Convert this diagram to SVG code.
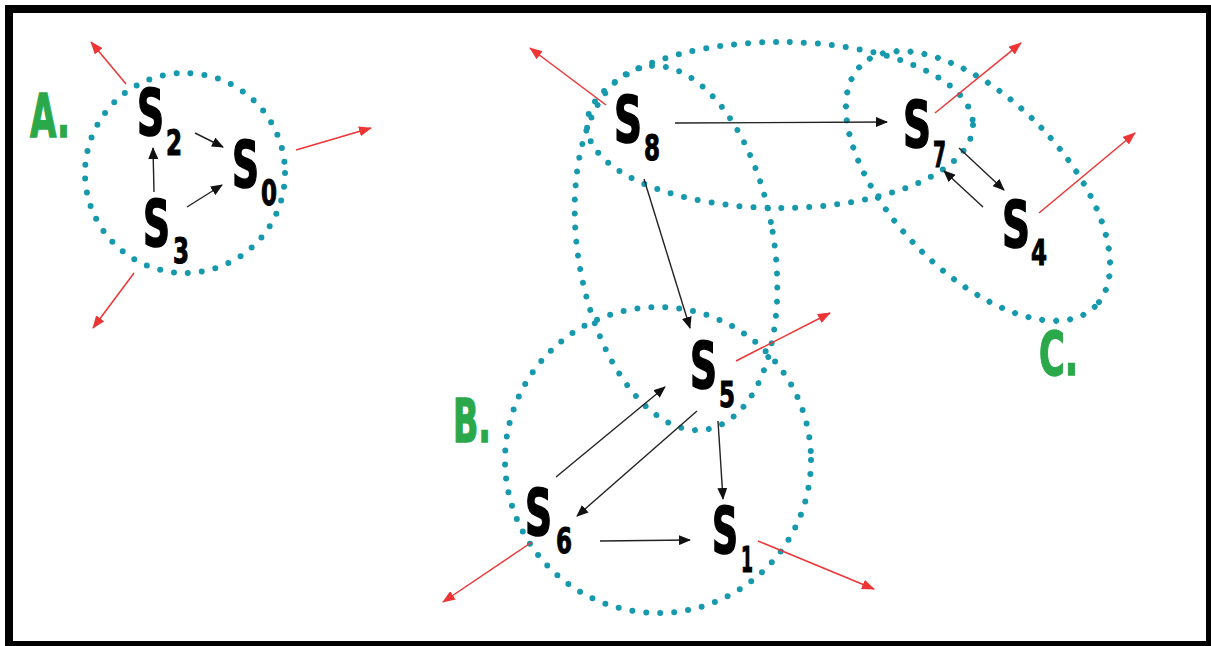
<svg xmlns="http://www.w3.org/2000/svg" width="1211" height="646" viewBox="0 0 1211 646">
<defs>
<style>
.frame{fill:#fff;stroke:#000;stroke-width:8}
.dot{fill:none;stroke:#1799ad;stroke-width:6;stroke-dasharray:0 14;stroke-linecap:round}
.s{font-family:"DejaVu Sans Condensed","DejaVu Sans",sans-serif;font-weight:bold;font-size:64px;fill:#000;stroke:#000;stroke-width:1.6}
.sub{font-family:"DejaVu Sans Condensed","DejaVu Sans",sans-serif;font-weight:bold;font-size:36px;fill:#000;stroke:#000;stroke-width:1}
.lbl{font-family:"DejaVu Sans Condensed","DejaVu Sans",sans-serif;font-weight:bold;font-size:60px;fill:#2ba84a;stroke:#2ba84a;stroke-width:1.4}
.blk{stroke:#222;stroke-width:1.4;fill:none;marker-end:url(#ab)}
.red{stroke:#ee3535;stroke-width:1.5;fill:none;marker-end:url(#ar)}
</style>
<marker id="ab" viewBox="0 0 12 10" refX="11" refY="5" markerWidth="12" markerHeight="10" markerUnits="userSpaceOnUse" orient="auto">
<path d="M0,0 L12,5 L0,10 Z" fill="#111"/>
</marker>
<marker id="ar" viewBox="0 0 13 10" refX="12" refY="5" markerWidth="13" markerHeight="10" markerUnits="userSpaceOnUse" orient="auto">
<path d="M0,0 L13,5 L0,10 Z" fill="#ee3535"/>
</marker>
</defs>
<rect class="frame" x="9" y="9" width="1201" height="636"/>

<g id="clusters">
<circle id="clusterA" class="dot" cx="185" cy="173" r="100"/>
<ellipse id="cluster87" class="dot" cx="780" cy="125" rx="193" ry="83"/>
<ellipse id="cluster85" class="dot" cx="676" cy="248" rx="98" ry="184" transform="rotate(-9.5 676 248)"/>
<circle id="clusterB" class="dot" cx="658" cy="460" r="153"/>
<ellipse id="clusterC" class="dot" cx="978" cy="186" rx="168" ry="86" transform="rotate(46 978 186)"/>
</g>

<g id="labels">
<text class="lbl" x="30" y="137" textLength="40" lengthAdjust="spacingAndGlyphs">A.</text>
<text class="lbl" x="453" y="442" textLength="38" lengthAdjust="spacingAndGlyphs">B.</text>
<text class="lbl" x="1039" y="375" textLength="39" lengthAdjust="spacingAndGlyphs">C.</text>
</g>

<g id="connectors">
<line class="blk" x1="195" y1="133" x2="223" y2="147"/>
<line class="blk" x1="154" y1="192" x2="153" y2="148"/>
<line class="blk" x1="187" y1="207" x2="222" y2="185"/>
<line class="blk" x1="675" y1="123" x2="887" y2="122"/>
<line class="blk" x1="644" y1="179" x2="690" y2="328"/>
<line class="blk" x1="959" y1="148" x2="1004" y2="190"/>
<line class="blk" x1="983" y1="207" x2="944" y2="171"/>
<line class="blk" x1="556" y1="477" x2="665" y2="387"/>
<line class="blk" x1="697" y1="411" x2="577" y2="516"/>
<line class="blk" x1="718" y1="421" x2="723" y2="499"/>
<line class="blk" x1="600" y1="541" x2="690" y2="540"/>
<line class="red" x1="126" y1="84" x2="91" y2="42"/>
<line class="red" x1="296" y1="150" x2="371" y2="128"/>
<line class="red" x1="134" y1="273" x2="93" y2="328"/>
<line class="red" x1="606" y1="105" x2="530" y2="48"/>
<line class="red" x1="935" y1="113" x2="1021" y2="43"/>
<line class="red" x1="1039" y1="213" x2="1135" y2="133"/>
<line class="red" x1="736" y1="361" x2="830" y2="313"/>
<line class="red" x1="532" y1="542" x2="443" y2="602"/>
<line class="red" x1="758" y1="541" x2="874" y2="589"/>
</g>

<g id="S2"><text class="s" x="137" y="135" textLength="27" lengthAdjust="spacingAndGlyphs">S</text><text class="sub" x="166" y="155" textLength="16" lengthAdjust="spacingAndGlyphs">2</text></g>
<g id="S0"><text class="s" x="232" y="187" textLength="27" lengthAdjust="spacingAndGlyphs">S</text><text class="sub" x="261" y="205" textLength="16" lengthAdjust="spacingAndGlyphs">0</text></g>
<g id="S3"><text class="s" x="143" y="246" textLength="27" lengthAdjust="spacingAndGlyphs">S</text><text class="sub" x="173" y="263" textLength="16" lengthAdjust="spacingAndGlyphs">3</text></g>
<g id="S8"><text class="s" x="614" y="142" textLength="28" lengthAdjust="spacingAndGlyphs">S</text><text class="sub" x="644" y="160" textLength="16" lengthAdjust="spacingAndGlyphs">8</text></g>
<g id="S7"><text class="s" x="903" y="147" textLength="28" lengthAdjust="spacingAndGlyphs">S</text><text class="sub" x="933" y="167" textLength="13" lengthAdjust="spacingAndGlyphs">7</text></g>
<g id="S4"><text class="s" x="1002" y="247" textLength="28" lengthAdjust="spacingAndGlyphs">S</text><text class="sub" x="1031" y="265" textLength="16" lengthAdjust="spacingAndGlyphs">4</text></g>
<g id="S5"><text class="s" x="690" y="388" textLength="27" lengthAdjust="spacingAndGlyphs">S</text><text class="sub" x="719" y="407" textLength="16" lengthAdjust="spacingAndGlyphs">5</text></g>
<g id="S6"><text class="s" x="525" y="535" textLength="27" lengthAdjust="spacingAndGlyphs">S</text><text class="sub" x="556" y="553" textLength="16" lengthAdjust="spacingAndGlyphs">6</text></g>
<g id="S1"><text class="s" x="712" y="553" textLength="26" lengthAdjust="spacingAndGlyphs">S</text><text class="sub" x="741" y="572" textLength="12" lengthAdjust="spacingAndGlyphs">1</text></g>
</svg>
